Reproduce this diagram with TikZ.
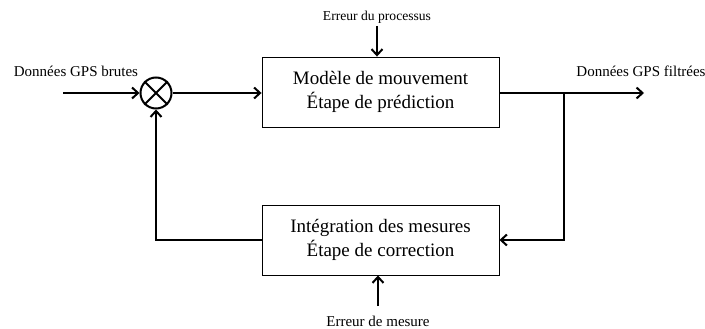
\documentclass[tikz,border=0pt]{standalone}
\usepackage{fontspec}
\setmainfont{Liberation Serif}
\usetikzlibrary{arrows.meta}
\begin{document}
\begin{tikzpicture}[x=1pt,y=-1pt,
  blk/.style={draw,line width=0.9pt,minimum width=237pt,minimum height=70pt,align=center,
    font=\fontsize{19}{24}\selectfont,inner sep=0pt},
  flow/.style={line width=2.4pt,-{Straight Barb[length=6pt,width=11pt,line width=2pt]}},
  wire/.style={line width=2.4pt},
  lbl/.style={inner sep=0pt,font=\fontsize{15}{18}\selectfont}]
\useasboundingbox (0,0) rectangle (705,329);
\node[blk] (pred) at (380.5,92) {Modèle de mouvement\\Étape de prédiction};
\node[blk] (corr) at (380.5,240) {Intégration des mesures\\Étape de correction};
\node[draw,circle,line width=2pt,minimum size=31pt,inner sep=0pt] (sum) at (156,93) {};
\draw[line width=2pt] (sum.north west) -- (sum.south east) (sum.north east) -- (sum.south west);
\node[lbl] (in) at (76,71) {Données GPS brutes};
\node[lbl] (out) at (641,71) {Données GPS filtrées};
\node[lbl,font=\fontsize{13.6}{16}\selectfont] (pe) at (377,17) {Erreur du processus};
\node[lbl] (me) at (378,321) {Erreur de mesure};
\coordinate (inS) at (63,93);
\coordinate (outE) at (644,93);
\coordinate (br) at (564,93);
\draw[flow] (inS) -- (sum.west);
\draw[flow] (sum.east) -- (pred.west |- sum.east);
\draw[flow] (pred.east |- br) -- (outE);
\draw[flow] (br) -- (564,240) -- (corr.east);
\draw[flow] (corr.west) -- (156,240) -- (sum.south);
\draw[flow] (377,26) -- (pred.north -| 377,0);
\draw[flow] (378,306) -- (corr.south -| 378,0);
\end{tikzpicture}
\end{document}
